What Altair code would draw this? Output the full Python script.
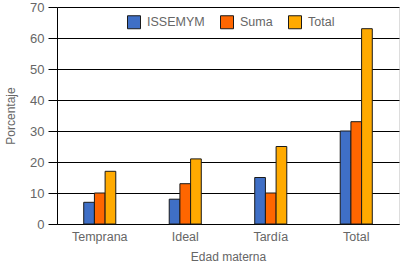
import altair as alt
import pandas as pd

categories = ["Temprana", "Ideal", "Tardía", "Total"]
series = ["ISSEMYM", "Suma", "Total"]
issemym = [7, 8, 15, 30]
suma = [10, 13, 10, 33]
total = [17, 21, 25, 63]
colors = ["#3F6FC6", "#FF6600", "#FFAA00"]

rows = []
for i, c in enumerate(categories):
    for s, vals in zip(series, [issemym, suma, total]):
        rows.append({"edad": c, "serie": s, "valor": vals[i]})
df = pd.DataFrame(rows)

FONT = "Liberation Sans"
GRAY = "#666666"

chart = alt.Chart(df).mark_bar(stroke="#1a1a1a", strokeWidth=1).encode(
    x=alt.X("edad:N", sort=categories, title="Edad materna",
            scale=alt.Scale(paddingInner=0.625, paddingOuter=0.3125),
            axis=alt.Axis(labelAngle=0, ticks=False, labelPadding=6,
                          domainColor="#000000", labelColor=GRAY,
                          labelFont=FONT, labelFontSize=12.5,
                          titleFont=FONT, titleFontSize=12, titleColor=GRAY,
                          titleFontWeight="normal", titlePadding=9)),
    xOffset=alt.XOffset("serie:N", sort=series,
                        scale=alt.Scale(paddingInner=0, paddingOuter=0)),
    y=alt.Y("valor:Q", title="Porcentaje",
            scale=alt.Scale(domain=[0, 70], nice=False),
            axis=alt.Axis(values=list(range(0, 71, 10)), tickSize=9,
                          tickColor="#000000", domainColor="#000000",
                          gridColor="#000000", gridWidth=1, gridOpacity=1,
                          labelPadding=4, labelColor=GRAY, labelFont=FONT,
                          labelFontSize=13, titleFont=FONT, titleFontSize=12,
                          titleColor=GRAY, titleFontWeight="normal",
                          titlePadding=12)),
    color=alt.Color("serie:N", sort=series,
                    scale=alt.Scale(domain=series, range=colors),
                    legend=alt.Legend(title=None, orient="none",
                                      direction="horizontal",
                                      legendX=70, legendY=8,
                                      symbolType="square", symbolSize=169,
                                      symbolStrokeColor="#1a1a1a",
                                      symbolStrokeWidth=1,
                                      symbolOpacity=1,
                                      labelFont=FONT, labelFontSize=12.5,
                                      labelColor=GRAY, labelOffset=6,
                                      columnPadding=13, padding=0)),
).properties(
    width=342, height=217,
    padding={"left": 57, "top": 7, "right": 1, "bottom": 41},
    autosize=alt.AutoSizeParams(type="none"),
).configure_view(stroke="#000000", strokeWidth=1).configure(background="white")

chart.save("out.html", embed_options={"renderer": "svg", "actions": False})
